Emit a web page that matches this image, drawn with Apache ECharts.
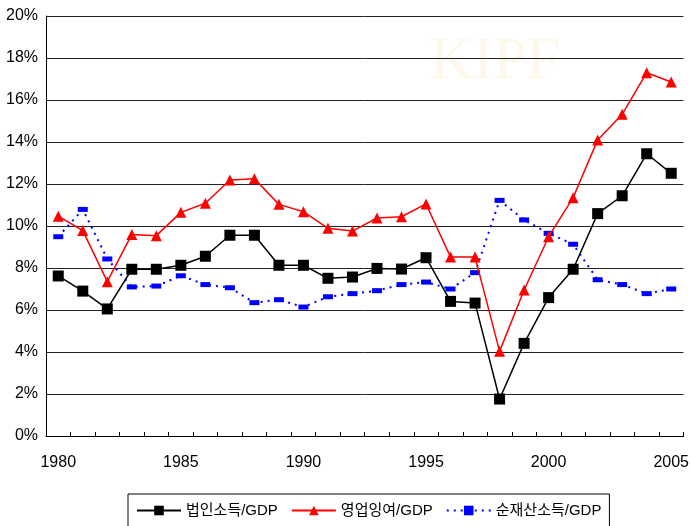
<!DOCTYPE html>
<html>
<head>
<meta charset="utf-8">
<script src="https://cdn.jsdelivr.net/npm/echarts@6/dist/echarts.min.js"></script>
<style>
html,body{margin:0;padding:0;background:#fff;}
#main{width:692px;height:526px;}
</style>
</head>
<body>
<div id="main"></div>
<script>
// 연도
var years = ['1980','1981','1982','1983','1984','1985','1986','1987','1988','1989','1990',
	'1991','1992','1993','1994','1995','1996','1997','1998','1999','2000',
	'2001','2002','2003','2004','2005'];

// 법인소득/GDP (%)
var corpIncome = [7.62,6.90,6.05,7.94,7.94,8.13,8.56,9.56,9.56,8.13,8.13,
	7.51,7.57,7.98,7.95,8.49,6.41,6.33,1.76,4.41,6.59,
	7.94,10.59,11.44,13.44,12.51];

// 영업잉여/GDP (%)
var opSurplus = [10.47,9.78,7.35,9.60,9.54,10.65,11.08,12.19,12.25,11.03,10.68,
	9.89,9.76,10.38,10.44,11.05,8.52,8.52,4.03,6.95,9.49,
	11.35,14.10,15.32,17.30,16.86];

// 순재산소득/GDP (%)
var netProperty = [9.49,10.79,8.43,7.10,7.14,7.63,7.21,7.06,6.35,6.49,6.14,
	6.63,6.78,6.92,7.21,7.33,7.00,7.78,11.22,10.29,9.65,
	9.13,7.44,7.21,6.78,7.00];

var seriesNames = ['법인소득/GDP','영업잉여/GDP','순재산소득/GDP'];

var font = '"Liberation Sans Narrow", "Liberation Sans", Arial, "Noto Sans CJK KR", sans-serif';

var chart = echarts.init(document.getElementById('main'));
chart.setOption({
	backgroundColor: '#fff',
	animation: false,
	textStyle: { fontFamily: font },
	graphic: [{
		type: 'text',
		left: 430,
		top: 32,
		z: -10,
		style: {
			text: 'KIPF',
			font: '60px "Liberation Serif", serif',
			fill: '#fdf8ea'
		}
	}],
	grid: {
		left: 46,
		right: 8,
		top: 16,
		bottom: 90,
		containLabel: false
	},
	legend: {
		data: seriesNames,
		left: 128,
		top: 494,
		padding: [9, 8, 14, 8],
		borderColor: '#000',
		borderWidth: 1,
		itemWidth: 44,
		itemHeight: 12,
		itemGap: 13,
		textStyle: { fontSize: 15, color: '#000', fontFamily: font }
	},
	xAxis: {
		type: 'category',
		data: years,
		boundaryGap: true,
		axisLine: { lineStyle: { color: '#000', width: 1 } },
		axisTick: { show: true, inside: true, length: 4, interval: 0, lineStyle: { color: '#000' } },
		axisLabel: { interval: 4, margin: 19, fontSize: 16, color: '#000' },
		splitLine: { show: false }
	},
	yAxis: {
		type: 'value',
		min: 0,
		max: 20,
		interval: 2,
		axisLine: { show: true, lineStyle: { color: '#000', width: 1 } },
		axisTick: { show: false },
		axisLabel: { formatter: '{value}%', margin: 8, fontSize: 16, color: '#000' },
		splitLine: { show: true, lineStyle: { color: '#222', width: 1 } }
	},
	series: [
		{
			name: seriesNames[0],
			type: 'line',
			data: corpIncome,
			symbol: 'rect',
			symbolSize: 11,
			color: '#000',
			lineStyle: { color: '#000', width: 1.5 },
			itemStyle: { color: '#000' },
			z: 3
		},
		{
			name: seriesNames[1],
			type: 'line',
			data: opSurplus,
			symbol: 'triangle',
			symbolSize: 11,
			color: '#ff0000',
			lineStyle: { color: '#ff0000', width: 1.5 },
			itemStyle: { color: '#ff0000' },
			z: 4
		},
		{
			name: seriesNames[2],
			type: 'line',
			data: netProperty,
			symbol: 'rect',
			symbolSize: [10, 5],
			color: '#0000ff',
			lineStyle: { color: '#0000ff', width: 2, type: [2, 5] },
			itemStyle: { color: '#0000ff' },
			z: 2
		}
	]
});
</script>
</body>
</html>
